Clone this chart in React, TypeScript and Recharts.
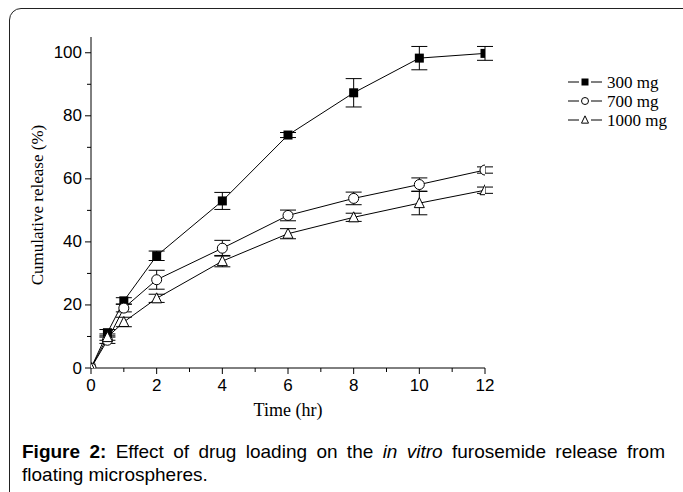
import React from "react";
import { ErrorBar, Line, LineChart, XAxis, YAxis } from "recharts";

const hours = [0, 0.5, 1, 2, 4, 6, 8, 10, 12];
const release300 = [0, 11.2, 21.3, 35.6, 53, 73.9, 87.3, 98.3, 99.8];
const err300 = [0, 1, 1, 1.5, 2.7, 0.8, 4.5, 3.7, 2.2];
const release700 = [0, 8.8, 19, 28, 38, 48.4, 53.8, 58.2, 62.8];
const err700 = [0, 1, 1.2, 3, 2.5, 1.7, 2, 2.1, 1];
const release1000 = [0, 9.8, 14.6, 22.1, 33.9, 42.6, 47.8, 52.3, 56.4];
const err1000 = [0, 1, 1.5, 1.3, 1.8, 1.6, 1.3, 3.7, 1];

const xTicks = [0, 1, 2, 3, 4, 5, 6, 7, 8, 9, 10, 11, 12];
const yTicks = [0, 10, 20, 30, 40, 50, 60, 70, 80, 90, 100];

const seriesNames = ["300 mg", "700 mg", "1000 mg"];

const data = hours.map((t, i) => ({
  t,
  a: release300[i],
  aErr: err300[i],
  b: release700[i],
  bErr: err700[i],
  c: release1000[i],
  cErr: err1000[i],
}));

const SERIF = "'Liberation Serif', 'Times New Roman', serif";
const SANS = "'Liberation Sans', Arial, sans-serif";

type Shape = "square" | "circle" | "triangle";
const shapes: Shape[] = ["square", "circle", "triangle"];

function Marker({ cx, cy, shape, s }: { cx: number; cy: number; shape: Shape; s: number }) {
  if (cx == null || cy == null) return null;
  if (shape === "square") {
    return <rect x={cx - s / 2} y={cy - s / 2} width={s} height={s} fill="#000" />;
  }
  if (shape === "circle") {
    return <circle cx={cx} cy={cy} r={s / 2} fill="#fff" stroke="#000" strokeWidth={1} />;
  }
  const h = s * 0.9;
  return (
    <polygon
      points={`${cx},${cy - h / 2 - 1} ${cx - s / 2},${cy + h / 2} ${cx + s / 2},${cy + h / 2}`}
      fill="#fff"
      stroke="#000"
      strokeWidth={1}
    />
  );
}

function makeDot(shape: Shape) {
  return (props: any) => (
    <Marker key={`${shape}-${props.index}`} cx={props.cx} cy={props.cy} shape={shape} s={shape === "square" ? 9 : 10} />
  );
}

function XTick(props: any) {
  const { x, y, payload } = props;
  const v = payload.value;
  const major = v % 2 === 0;
  return (
    <g>
      <line x1={x} x2={x} y1={y} y2={y + (major ? 6 : 4)} stroke="#000" />
      {major && (
        <text x={x} y={y + 17} textAnchor="middle" dominantBaseline="central" fontFamily={SANS} fontSize={17} fill="#000">
          {v}
        </text>
      )}
    </g>
  );
}

function YTick(props: any) {
  const { x, y, payload } = props;
  const v = payload.value;
  const major = v % 20 === 0;
  return (
    <g>
      <line x1={x - (major ? 6 : 4)} x2={x} y1={y} y2={y} stroke="#000" />
      {major && (
        <text x={x - 9} y={y} textAnchor="end" dominantBaseline="central" fontFamily={SANS} fontSize={17} fill="#000">
          {v}
        </text>
      )}
    </g>
  );
}

function LegendBox() {
  return (
    <svg width={120} height={70}>
      {seriesNames.map((name, i) => {
        const y = 12 + i * 19;
        return (
          <g key={name}>
            <line x1={0} x2={34} y1={y} y2={y} stroke="#000" />
            <rect x={11} y={y - 4} width={12} height={8} fill="#fff" />
            <Marker cx={17} cy={y} shape={shapes[i]} s={7} />
            <text x={39} y={y} dominantBaseline="central" fontFamily={SERIF} fontSize={17} fill="#000">
              {name}
            </text>
          </g>
        );
      })}
    </svg>
  );
}

export default function App() {
  return (
    <div style={{ position: "absolute", left: 0, top: 0, width: 683, height: 492, overflow: "hidden", background: "#fff" }}>
      <div
        style={{
          position: "absolute",
          left: 9,
          top: 8,
          width: 720,
          height: 520,
          border: "1px solid #222",
          borderRadius: 12,
          boxSizing: "border-box",
        }}
      />
      <div style={{ position: "absolute", left: 0, top: 0 }}>
        <LineChart width={683} height={492} data={data} margin={{ top: 37, right: 198, bottom: 94, left: 0 }}>
          <XAxis
            dataKey="t"
            type="number"
            domain={[0, 12]}
            ticks={xTicks}
            interval={0}
            allowDataOverflow
            height={30}
            tickSize={0}
            tickMargin={0}
            tick={<XTick />}
            stroke="#000"
          />
          <YAxis
            type="number"
            domain={[0, 105]}
            ticks={yTicks}
            interval={0}
            allowDataOverflow
            width={91}
            tickSize={0}
            tickMargin={0}
            tick={<YTick />}
            stroke="#000"
          />
          <Line dataKey="a" stroke="#000" strokeWidth={1} dot={makeDot("square")} isAnimationActive={false}>
            <ErrorBar dataKey="aErr" width={8} stroke="#000" strokeWidth={1} direction="y" />
          </Line>
          <Line dataKey="b" stroke="#000" strokeWidth={1} dot={makeDot("circle")} isAnimationActive={false}>
            <ErrorBar dataKey="bErr" width={8} stroke="#000" strokeWidth={1} direction="y" />
          </Line>
          <Line dataKey="c" stroke="#000" strokeWidth={1} dot={makeDot("triangle")} isAnimationActive={false}>
            <ErrorBar dataKey="cErr" width={8} stroke="#000" strokeWidth={1} direction="y" />
          </Line>
        </LineChart>
      </div>
      <div style={{ position: "absolute", left: 568, top: 70 }}>
        <LegendBox />
      </div>
      <div
        style={{
          position: "absolute",
          left: 38,
          top: 205,
          transform: "translate(-50%, -50%) rotate(-90deg)",
          whiteSpace: "nowrap",
          fontFamily: SERIF,
          fontSize: 17,
          color: "#000",
        }}
      >
        Cumulative release (%)
      </div>
      <div
        style={{
          position: "absolute",
          left: 288,
          top: 410,
          transform: "translate(-50%, -50%)",
          whiteSpace: "nowrap",
          fontFamily: SERIF,
          fontSize: 18,
          color: "#000",
        }}
      >
        Time (hr)
      </div>
      <div
        style={{
          position: "absolute",
          left: 22,
          top: 440,
          width: 643,
          fontFamily: SANS,
          fontSize: 19,
          lineHeight: "23px",
          color: "#000",
        }}
      >
        <div style={{ textAlign: "justify", textAlignLast: "justify", whiteSpace: "nowrap" }}>
          <b>Figure 2:</b> Effect of drug loading on the <i>in vitro</i> furosemide release from
        </div>
        <div>floating microspheres.</div>
      </div>
    </div>
  );
}
